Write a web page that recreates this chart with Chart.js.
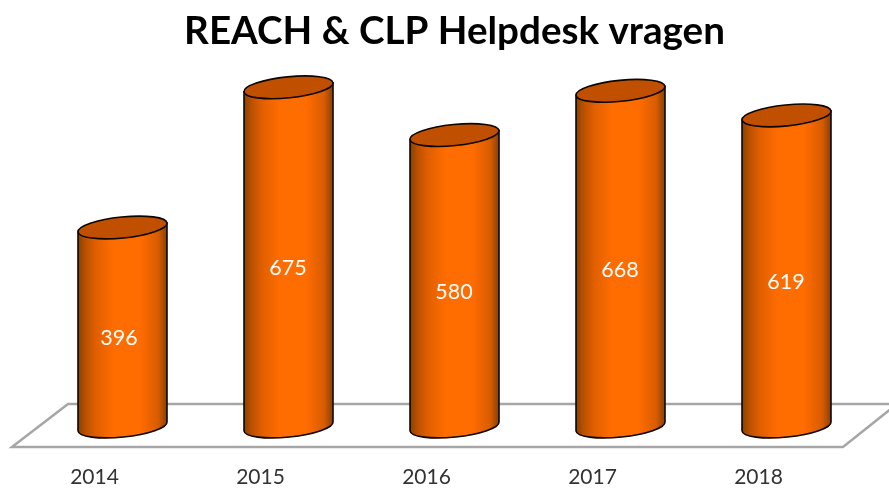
<!DOCTYPE html>
<html><head><meta charset="utf-8">
<style>html,body{margin:0;padding:0;background:#fff;overflow:hidden}#w{position:relative;width:889px;height:488px}canvas{display:block}</style>
<script src="https://cdn.jsdelivr.net/npm/chart.js@4"></script>
</head><body><div id="w"><canvas id="c" width="889" height="488"></canvas></div>
<script>
const titleText = 'REACH & CLP Helpdesk vragen';
const years = ['2014','2015','2016','2017','2018'];
const questions = [396,675,580,668,619];

const cylinderPlugin = {
  id:'cylinders',
  beforeDatasetsDraw(chart){
    const {ctx,scales:{y}} = chart;
    const z = y.getPixelForValue(0);
    ctx.save();
    ctx.strokeStyle='#a6a6a6'; ctx.lineWidth=2.5;
    ctx.beginPath();
    ctx.moveTo(897,z-22.5); ctx.lineTo(68,z-22.5); ctx.lineTo(12,z+20.5); ctx.lineTo(843,z+20.5); ctx.lineTo(897,z-22.5);
    ctx.stroke();
    ctx.restore();
  },
  beforeDatasetDraw(chart,args){
    const {ctx} = chart;
    const meta = args.meta, ds = chart.data.datasets[args.index];
    const rot = -5.8*Math.PI/180, minor = 10.5;
    meta.data.forEach(bar=>{
      const {x,y,base,width} = bar.getProps(['x','y','base','width']);
      const a = width/2/Math.cos(rot);
      const dx = a*Math.cos(rot), dy = a*Math.sin(rot);
      const g = ctx.createLinearGradient(x-width/2,0,x+width/2,0);
      g.addColorStop(0,'#8a4000');
      g.addColorStop(.08,'#b85000');
      g.addColorStop(.2,'#e05f00');
      g.addColorStop(.4,ds.backgroundColor);
      g.addColorStop(.7,ds.backgroundColor);
      g.addColorStop(.9,'#d85c00');
      g.addColorStop(1,'#8a4000');
      ctx.save();
      ctx.lineWidth=1.6; ctx.strokeStyle='#0d0500';
      ctx.beginPath();
      ctx.moveTo(x+dx,y+dy);
      ctx.lineTo(x+dx,base+dy);
      ctx.ellipse(x,base,a,minor,rot,0,Math.PI,false);
      ctx.lineTo(x-dx,y-dy);
      ctx.closePath();
      ctx.fillStyle=g; ctx.fill(); ctx.stroke();
      ctx.beginPath();
      ctx.ellipse(x,y,a,minor,rot,0,Math.PI*2);
      ctx.fillStyle=ds.topColor; ctx.fill(); ctx.stroke();
      ctx.restore();
    });
    return false;
  },
  afterDatasetsDraw(chart){
    const {ctx} = chart;
    const meta = chart.getDatasetMeta(0), ds = chart.data.datasets[0];
    ctx.save();
    ctx.fillStyle='#ffffff'; ctx.font='21.5px Lato'; ctx.textAlign='center'; ctx.textBaseline='middle';
    meta.data.forEach((bar,i)=>{
      const nudge = i===0 ? -3.5 : -0.5;
      ctx.fillText(String(ds.data[i]),bar.x+nudge,(bar.y+bar.base)/2+11.5);
    });
    ctx.restore();
  }
};

new Chart(document.getElementById('c'),{
  type:'bar',
  data:{labels:years,datasets:[{data:questions,backgroundColor:'#ff6c00',topColor:'#c05000',categoryPercentage:1,barPercentage:.536}]},
  options:{
    responsive:false, animation:false,
    layout:{padding:{left:39.5,right:19.5,top:0,bottom:0}},
    plugins:{
      legend:{display:false}, tooltip:{enabled:false},
      title:{display:true,text:titleText,color:'#000',font:{family:'Lato',size:38.6,weight:'bold'},padding:{top:8,bottom:20.4}}
    },
    scales:{
      x:{grid:{display:false,drawTicks:false},border:{display:false},
         afterFit(s){s.height=61.5;},
         ticks:{color:'#333333',font:{family:'Lato',size:21},labelOffset:-28,padding:38,maxRotation:0,autoSkip:false}},
      y:{display:false,min:0,max:700}
    }
  },
  plugins:[cylinderPlugin]
});
</script></body></html>
